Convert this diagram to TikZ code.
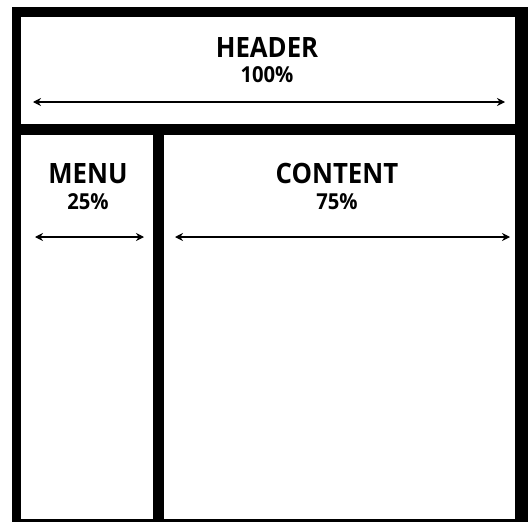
\documentclass[tikz,border=0pt]{standalone}
\usepackage{fontspec}
\setmainfont{Open Sans}[BoldFont={Open Sans Bold},BoldFeatures={FakeStretch=0.92}]
\usetikzlibrary{arrows.meta}
\begin{document}
\begin{tikzpicture}[x=1pt,y=-1pt,
  panel/.style={fill=white,draw=none},
  title/.style={font=\bfseries\fontsize{28}{28}\selectfont,inner sep=0pt,anchor=base},
  pct/.style={font=\bfseries\fontsize{22}{22}\selectfont,inner sep=0pt,anchor=base},
  span/.style={draw=black,line width=1.1pt,{Stealth[length=8pt,width=8pt]}-{Stealth[length=8pt,width=8pt]}}]
\useasboundingbox (0,0) rectangle (528,522);
\fill[black] (12,7) rectangle (528,522);
\fill[white] (21,17) rectangle (515,124);
\fill[white] (21,135) rectangle (153,519);
\fill[white] (164,135) rectangle (515,519);
\node[title] (ht) at (267,57) {HEADER};
\node[pct] (hp) at (267,82) {100\%};
\node[title] (mt) at (88,183) {MENU};
\node[pct] (mp) at (88,209) {25\%};
\node[title] (ct) at (337,183) {CONTENT};
\node[pct] (cp) at (337,209) {75\%};
\coordinate (hl) at (33,102);
\coordinate (hr) at (505,102);
\coordinate (ml) at (35,237);
\coordinate (mr) at (144,237);
\coordinate (cl) at (175,237);
\coordinate (cr) at (510,237);
\draw[span] (hl) -- (hr);
\draw[span] (ml) -- (mr);
\draw[span] (cl) -- (cr);
\end{tikzpicture}
\end{document}
